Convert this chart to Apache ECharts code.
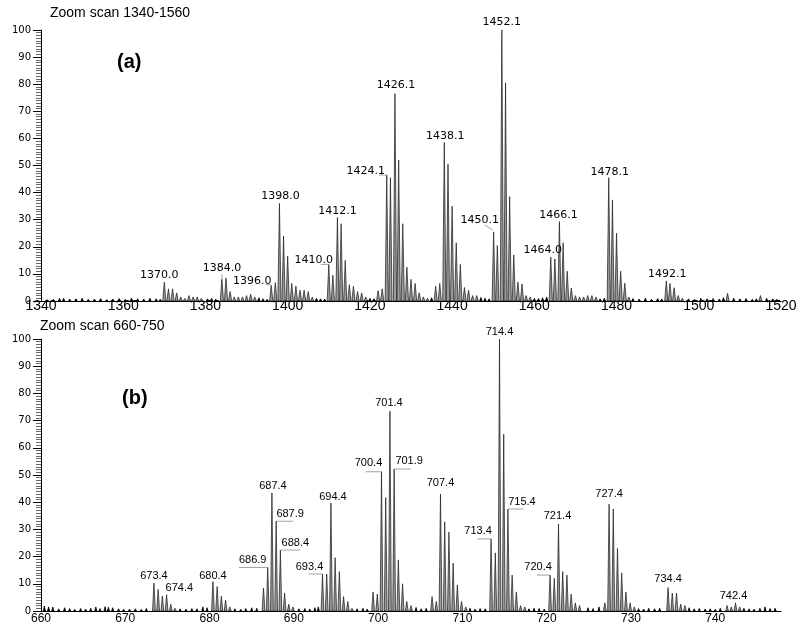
<!DOCTYPE html>
<html><head><meta charset="utf-8">
<script src="https://cdn.jsdelivr.net/npm/echarts@6/dist/echarts.min.js"></script>
<style>html,body{margin:0;padding:0;background:#fff}#c{width:800px;height:632px}</style>
</head><body><div id="c"></div>
<script>
// ---------- Panel (a): zoom scan 1340-1560 ----------
const topTitle = 'Zoom scan 1340-1560';
const topPeaks = [
  [1370.0,7],[1371,4.5],[1372,4.5],[1373,3],[1374,1.5],[1375,1],[1376,2],[1377,1.5],[1378,1.5],[1379,1],
  [1384.0,8],[1385,8.5],[1386,3.5],[1387,1.5],[1388,1.5],[1389,1.5],[1390,2],[1391,2.5],[1392,1.5],
  [1396.0,5.8],[1397,6.8],[1398.0,36],[1399,24],[1400,16.5],[1401,6.5],[1402,5.5],[1403,4],[1404,4],[1405,3.5],[1406,1.5],
  [1410.0,13.5],[1411,9.5],[1412.1,30.8],[1413,28.5],[1414,15],[1415,6],[1416,5.5],[1417,3.5],[1418,3],[1419,1.5],
  [1422,3.8],[1423,4.5],[1424.1,46.5],[1425,45.5],[1426.1,76.5],[1427,52],[1428,28.5],[1429,12.5],[1430,8],[1431,6.5],[1432,3],[1433,1.5],[1434,1],
  [1436,5.5],[1437,6.5],[1438.1,58.5],[1439,50.5],[1440,35],[1441,21.5],[1442,13.5],[1443,5],[1444,4],[1445,2],[1446,2],
  [1450.1,25.5],[1451,20.5],[1452.1,100],[1453,80.5],[1454,38.5],[1455,17],[1456,7],[1457,6.3],[1458,2],[1459,1.5],
  [1464.0,16.2],[1465,15.5],[1466.1,29.3],[1467,21.5],[1468,11],[1469,4.8],[1470,2],[1471,1.5],[1472,1.5],[1473,2],[1474,2],[1475,1.5],
  [1478.1,45.5],[1479,37.3],[1480,25],[1481,11],[1482,6.6],[1483,1.5],
  [1492.1,7.4],[1493,6.5],[1494,4.9],[1495,2],[1496,1],[1507,2.8],[1515,2]
];
const topNoise = [
  [1341.5,.5],[1343,.6],[1344.5,.9],[1345.5,1],[1347,.7],[1348.5,.8],[1350,1],[1351.5,.6],[1353,.7],[1354.5,.9],
  [1356,.5],[1357.5,.7],[1359,.9],[1360.5,.6],[1362,1.1],[1363.5,.8],[1365,.7],[1366.5,1],[1368,.8],[1369,.6],
  [1380.5,.8],[1381.5,1],[1382.5,.7],[1393,1.2],[1394,.8],[1395,.6],[1407,1],[1408,.8],[1409,.7],[1420,1],[1421,.8],
  [1435,1.2],[1447,1.3],[1448,1],[1449,.8],[1460,1],[1461,.9],[1462,1.2],[1463,1.5],[1476,.8],[1477,1],
  [1484,.9],[1485.5,.7],[1487,1],[1488.5,.6],[1490,.9],[1491,.7],[1497.5,.8],[1499,.6],[1500.5,1],[1502,.8],
  [1503.5,.9],[1505,.7],[1506,1.2],[1508.5,1],[1510,.8],[1511.5,.9],[1513,.6],[1514,.8],[1516.5,1],[1518,.8],[1519,.6]
];
const topLabels = ['1370.0','1384.0','1396.0','1398.0','1410.0','1412.1','1424.1','1426.1','1438.1','1450.1','1452.1','1464.0','1466.1','1478.1','1492.1'];
const topXTicks = { min: 1340, max: 1520, interval: 20 };

// ---------- Panel (b): zoom scan 660-750 ----------
const botTitle = 'Zoom scan 660-750';
const botPeaks = [
  [673.4,10.3],[673.9,8],[674.4,5.5],[674.9,6],[675.4,2.5],[675.9,1],
  [680.4,10.8],[680.9,9],[681.4,5.5],[681.9,4],[682.4,1.5],
  [686.4,8.5],[686.9,16],[687.4,43.4],[687.9,33],[688.4,22.4],[688.9,6.6],[689.4,2.5],[689.9,1.5],
  [693.4,13.6],[693.9,13.6],[694.4,39.7],[694.9,19.6],[695.4,14.5],[695.9,5.3],[696.4,3.5],[696.9,1],
  [699.4,7],[699.9,6.2],[700.4,51.2],[700.9,41.7],[701.4,73.5],[701.9,52.2],[702.4,18.8],[702.9,10],[703.4,3.5],[703.9,2],
  [706.4,5.3],[706.9,3.5],[707.4,43],[707.9,32.8],[708.4,29],[708.9,17.6],[709.4,9.6],[709.9,3.5],[710.4,1.5],
  [713.4,26.5],[713.9,21.4],[714.4,100],[714.9,65],[715.4,37.5],[715.9,13.2],[716.4,7],[716.9,2],[717.4,1.5],
  [720.4,13.2],[720.9,12],[721.4,32],[721.9,14.5],[722.4,13.2],[722.9,6.2],[723.4,3],[723.9,2],
  [726.9,3],[727.4,39.3],[727.9,37.5],[728.4,23],[728.9,14],[729.4,7],[729.9,3],[730.4,1.5],
  [734.4,8.6],[734.9,6.6],[735.4,6.6],[735.9,2.5],[736.4,2],
  [741.4,2],[741.9,1.5],[742.4,3],[742.9,1.5]
];
const botNoise = [
  [660.4,1.8],[660.9,1.5],[661.4,1.5],[662.1,.8],[662.8,1.2],[663.4,.9],[664,.6],[664.7,.9],[665.3,.7],[665.9,1],
  [666.5,1.5],[667,.9],[667.6,1.6],[668,1.4],[668.5,1.2],[669.2,.8],[669.8,.6],[670.5,.7],[671.2,.8],[671.9,.6],[672.5,.9],
  [676.5,.8],[677.2,.7],[677.9,.9],[678.5,.8],[679.2,1.5],[679.7,1.2],[683,.8],[683.7,.6],[684.3,.9],[685,1.2],[685.6,1],
  [690.6,.8],[691.3,.9],[691.9,.7],[692.5,1.2],[692.9,1.5],[697.5,.8],[698.2,1],[698.7,.7],[704.5,1.3],[705.1,.8],[705.7,1],
  [710.9,1],[711.5,.7],[712.1,.9],[712.7,.8],[717.9,.8],[718.5,1],[719.1,.9],[719.7,.7],[724.9,1.2],[725.5,.9],[726.2,1.5],
  [730.9,.9],[731.5,.7],[732.1,1],[732.8,.8],[733.4,1],[736.9,1.2],[737.5,.8],[738.1,.9],[738.8,.7],[739.4,.8],[740,.6],
  [740.6,1],[743.4,1],[744,.8],[744.6,.7],[745.3,1],[745.9,1.5],[746.5,.9],[747.1,1]
];
const botLabels = ['673.4','674.4','680.4','686.9','687.4','687.9','688.4','693.4','694.4','700.4','701.4','701.9','707.4','713.4','714.4','715.4','720.4','721.4','727.4','734.4','742.4'];
const botXTicks = { min: 660, max: 747.8, interval: 10 };
const yTicks = { min: 0, max: 100, interval: 10 };

// label placement (pixel offsets from the peak top): [dx, dy, leader x1, y1, x2, y2]
const labelLayout = {
  '1370.0':[-5,-7],'1384.0':[0,-11,0,-5,0,0],'1396.0':[-19,-4,-5,-1,0,0],'1398.0':[1,-7],
  '1410.0':[-15,-4,-8,0,0,0],'1412.1':[0,-6],'1424.1':[-21,-4,-8,0,0,0],'1426.1':[1,-9],
  '1438.1':[1,-6],'1450.1':[-14,-12,-9,-7,-1,-2],'1452.1':[0,-8],'1464.0':[-8,-7],
  '1466.1':[-1,-6],'1478.1':[1,-6],'1492.1':[1,-7],
  '673.4':[0,-7],'674.4':[17,-8],'680.4':[0,-6],'686.9':[-15,-8,-29,0,0,0],'687.4':[1,-7],
  '687.9':[14,-7,0,0,17,0],'688.4':[15,-7,0,0,20,0],'693.4':[-13,-7,-14,0,0,0],'694.4':[2,-6],
  '700.4':[-13,-9,-16,0,0,0],'701.4':[-1,-8],'701.9':[15,-8,0,0,17,0],'707.4':[0,-11],
  '713.4':[-13,-8,-14,0,0,0],'714.4':[0,-7],'715.4':[14,-7,0,0,16,0],'720.4':[-12,-8,-13,0,0,0],
  '721.4':[-1,-8],'727.4':[0,-10],'734.4':[0,-9],'742.4':[-2,-7]
};

function peakSeries(data, idx, hw, fill, stroke, lw) {
  return {
    type: 'custom', xAxisIndex: idx, yAxisIndex: idx, data: data, clip: true, silent: true,
    encode: { x: 0, y: 1 },
    renderItem: function (params, api) {
      const mz = api.value(0), h = api.value(1);
      const b = api.coord([mz, 0]), t = api.coord([mz, h]);
      return { type: 'polygon',
        shape: { points: [[b[0] - hw, b[1]], [t[0], t[1]], [b[0] + hw, b[1]]] },
        style: { fill: fill, stroke: stroke, lineWidth: lw } };
    }
  };
}
function labelSeries(labels, peaks, idx, font) {
  const data = labels.map(function (txt) {
    const mz = parseFloat(txt);
    let best = peaks[0];
    peaks.forEach(function (p) { if (Math.abs(p[0] - mz) < Math.abs(best[0] - mz)) best = p; });
    return [best[0], best[1]];
  });
  return {
    type: 'custom', xAxisIndex: idx, yAxisIndex: idx, data: data, clip: false, silent: true, z: 5,
    encode: { x: 0, y: 1 },
    renderItem: function (params, api) {
      const t = api.coord([api.value(0), api.value(1)]);
      const txt = labels[params.dataIndex];
      const L = labelLayout[txt] || [0, -7];
      const children = [];
      if (L.length > 2) {
        children.push({ type: 'line',
          shape: { x1: t[0] + L[2], y1: t[1] + L[3], x2: t[0] + L[4], y2: t[1] + L[5] },
          style: { stroke: '#8a8a8a', lineWidth: 0.8 } });
      }
      children.push({ type: 'text',
        style: { text: txt, x: t[0] + L[0], y: t[1] + L[1], align: 'center', verticalAlign: 'middle',
                 font: font, fill: '#000' } });
      return { type: 'group', children: children };
    }
  };
}

function yAxis(idx) {
  return {
    type: 'value', gridIndex: idx, min: yTicks.min, max: yTicks.max, interval: yTicks.interval,
    axisLine: { show: true, lineStyle: { color: '#000', width: 1 } },
    axisTick: { show: true, length: 8, lineStyle: { color: '#000', width: 1 } },
    minorTick: { show: true, splitNumber: 10, length: 5, lineStyle: { color: '#000', width: 0.6 } },
    splitLine: { show: false },
    axisLabel: { color: '#000', fontFamily: 'DejaVu Sans', fontSize: 10, margin: 10 }
  };
}
function xAxis(idx, t, fs, margin) {
  return {
    type: 'value', gridIndex: idx, min: t.min, max: t.max, interval: t.interval,
    axisLine: { show: true, onZero: false, lineStyle: { color: '#000', width: 1 } },
    axisTick: { show: false }, splitLine: { show: false },
    axisLabel: { color: '#000', fontFamily: 'Liberation Sans', fontSize: fs, margin: margin,
      showMaxLabel: t.max % t.interval === 0,
      formatter: function (v) { return (Math.abs(v % t.interval) < 1e-6) ? String(v) : ''; } }
  };
}

const chart = echarts.init(document.getElementById('c'), null, { renderer: 'canvas' });
chart.setOption({
  backgroundColor: '#fff',
  animation: false,
  title: [
    { text: topTitle, left: 50, top: 6, padding: 0,
      textStyle: { fontFamily: 'Liberation Sans', fontSize: 14, fontWeight: 'normal', color: '#000' } },
    { text: botTitle, left: 40, top: 319, padding: 0,
      textStyle: { fontFamily: 'Liberation Sans', fontSize: 14, fontWeight: 'normal', color: '#000' } }
  ],
  graphic: [
    { type: 'text', left: 117, top: 52, style: { text: '(a)', font: 'bold 20px "Liberation Sans"', fill: '#000' } },
    { type: 'text', left: 122, top: 388, style: { text: '(b)', font: 'bold 20px "Liberation Sans"', fill: '#000' } }
  ],
  grid: [
    { left: 41, width: 740, top: 30, height: 271 },
    { left: 41, width: 740, top: 339, height: 272 }
  ],
  xAxis: [xAxis(0, topXTicks, 14, -2), xAxis(1, botXTicks, 12, 2)],
  yAxis: [yAxis(0), yAxis(1)],
  series: [
    peakSeries(topNoise, 0, 1.2, '#000', '#000', 0.8),
    peakSeries(topPeaks, 0, 1.6, '#9a9a9a', '#1a1a1a', 0.7),
    labelSeries(topLabels, topPeaks, 0, '11px "DejaVu Sans"'),
    peakSeries(botNoise, 1, 1.0, '#000', '#000', 0.8),
    peakSeries(botPeaks, 1, 1.4, '#9a9a9a', '#1a1a1a', 0.7),
    labelSeries(botLabels, botPeaks, 1, '11px "Liberation Sans"')
  ]
});
</script>
</body></html>
